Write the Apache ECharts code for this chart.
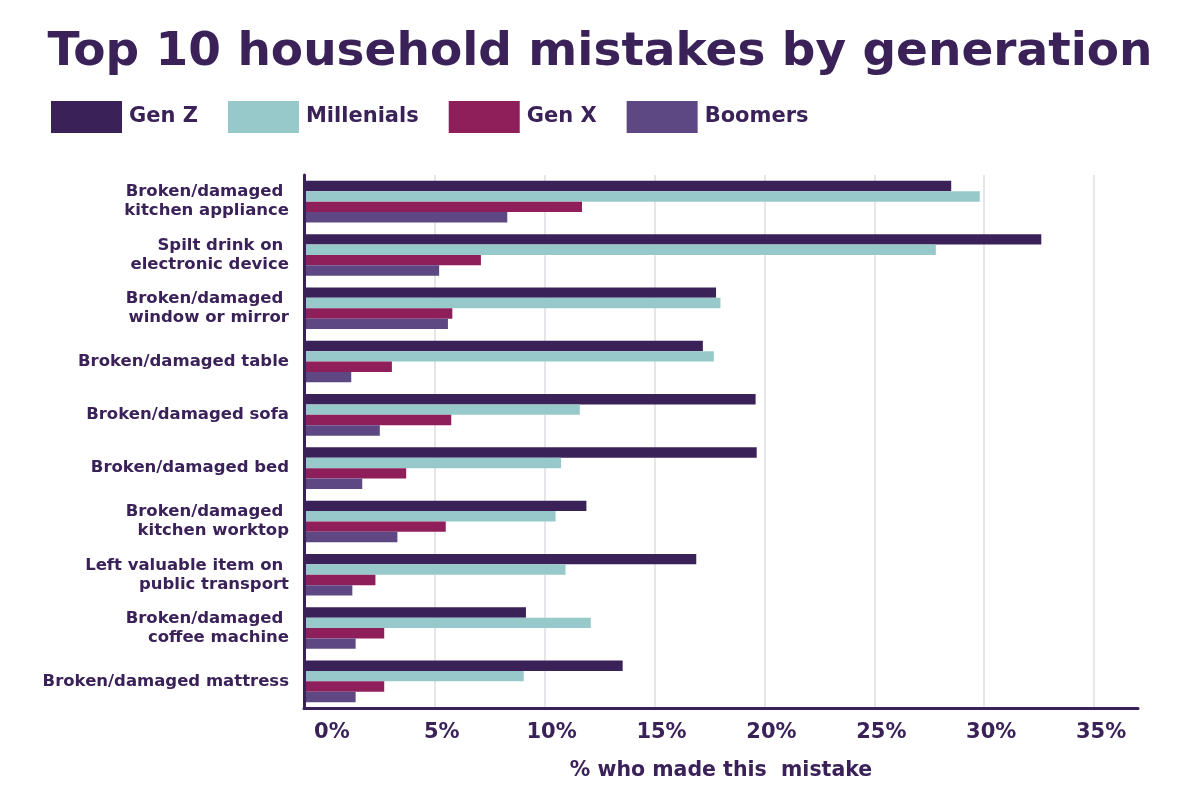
<!DOCTYPE html>
<html>
<head>
<meta charset="utf-8">
<script src="https://cdn.jsdelivr.net/npm/echarts@6/dist/echarts.min.js"></script>
<style>
html,body{margin:0;padding:0;background:#ffffff;}
#chart{width:1200px;height:800px;}
</style>
</head>
<body>
<div id="chart"></div>
<script>
const categories = [
  "Broken/damaged \nkitchen appliance",
  "Spilt drink on \nelectronic device",
  "Broken/damaged \nwindow or mirror",
  "Broken/damaged table",
  "Broken/damaged sofa",
  "Broken/damaged bed",
  "Broken/damaged \nkitchen worktop",
  "Left valuable item on \npublic transport",
  "Broken/damaged \ncoffee machine",
  "Broken/damaged mattress"
];
const seriesNames = ["Gen Z", "Millenials", "Gen X", "Boomers"];
const genZ       = [28.5, 32.6, 17.8, 17.2, 19.6, 19.65, 11.9, 16.9, 9.15, 13.55];
const millenials = [29.8, 27.8, 18.0, 17.7, 11.6, 10.75, 10.5, 10.95, 12.1, 9.05];
const genX       = [11.7, 7.1, 5.8, 3.05, 5.75, 3.7, 5.5, 2.3, 2.7, 2.7];
const boomers    = [8.3, 5.2, 5.6, 1.2, 2.5, 1.7, 3.3, 1.25, 1.4, 1.4];
const colors = ["#3a2259", "#98c9ca", "#8f1f5b", "#5e4884"];
const FONT = "DejaVu Sans";
const INK = "#3a2259";
const GRID = "#e6e6ea";

const chart = echarts.init(document.getElementById('chart'), null, {renderer: 'canvas'});
const allData = [genZ, millenials, genX, boomers];
const option = {
  backgroundColor: '#ffffff',
  animation: false,
  title: {
    text: 'Top 10 household mistakes by generation',
    left: 'center',
    top: 24,
    textStyle: {fontFamily: FONT, fontWeight: 'bold', fontSize: 47, color: INK}
  },
  legend: {
    data: seriesNames,
    left: 46,
    top: 96,
    itemWidth: 71,
    itemHeight: 32,
    itemGap: 30,
    icon: 'rect',
    textStyle: {fontFamily: FONT, fontWeight: 'bold', fontSize: 21, color: INK, padding: [0, 0, 0, 2]}
  },
  grid: {left: 304, right: 62, top: 175, bottom: 92, containLabel: false},
  xAxis: {
    type: 'value',
    min: -0.95,
    max: 37,
    startValue: -0.95,
    splitNumber: 8,
    name: '% who made this  mistake',
    nameLocation: 'middle',
    nameGap: 52,
    nameTextStyle: {fontFamily: FONT, fontWeight: 'bold', fontSize: 20.5, color: INK},
    axisLine: {show: true, lineStyle: {color: INK, width: 3}},
    axisTick: {show: false},
    axisLabel: {
      fontFamily: FONT, fontWeight: 'bold', fontSize: 21, color: INK,
      margin: 14, showMinLabel: false, showMaxLabel: false,
      padding: [0, 0, 0, 14],
      formatter: v => Math.round(v) + '%'
    },
    splitLine: {
      show: true, showMinLine: false, showMaxLine: false,
      lineStyle: {color: ['rgba(0,0,0,0)', GRID, GRID, GRID, GRID, GRID, GRID, GRID, GRID, GRID], width: 2}
    }
  },
  yAxis: {
    type: 'category',
    data: categories,
    inverse: true,
    z: 3,
    axisLine: {show: true, onZero: false, lineStyle: {color: INK, width: 3}},
    axisTick: {show: false},
    axisLabel: {
      fontFamily: FONT, fontWeight: 'bold', fontSize: 16.5, color: INK,
      margin: 15, lineHeight: 19, align: 'right'
    }
  },
  series: seriesNames.map((n, i) => ({
    name: n,
    type: 'bar',
    data: allData[i],
    barGap: '0%',
    barCategoryGap: '22%',
    itemStyle: {color: colors[i]}
  }))
};
chart.setOption(option);
</script>
</body>
</html>
